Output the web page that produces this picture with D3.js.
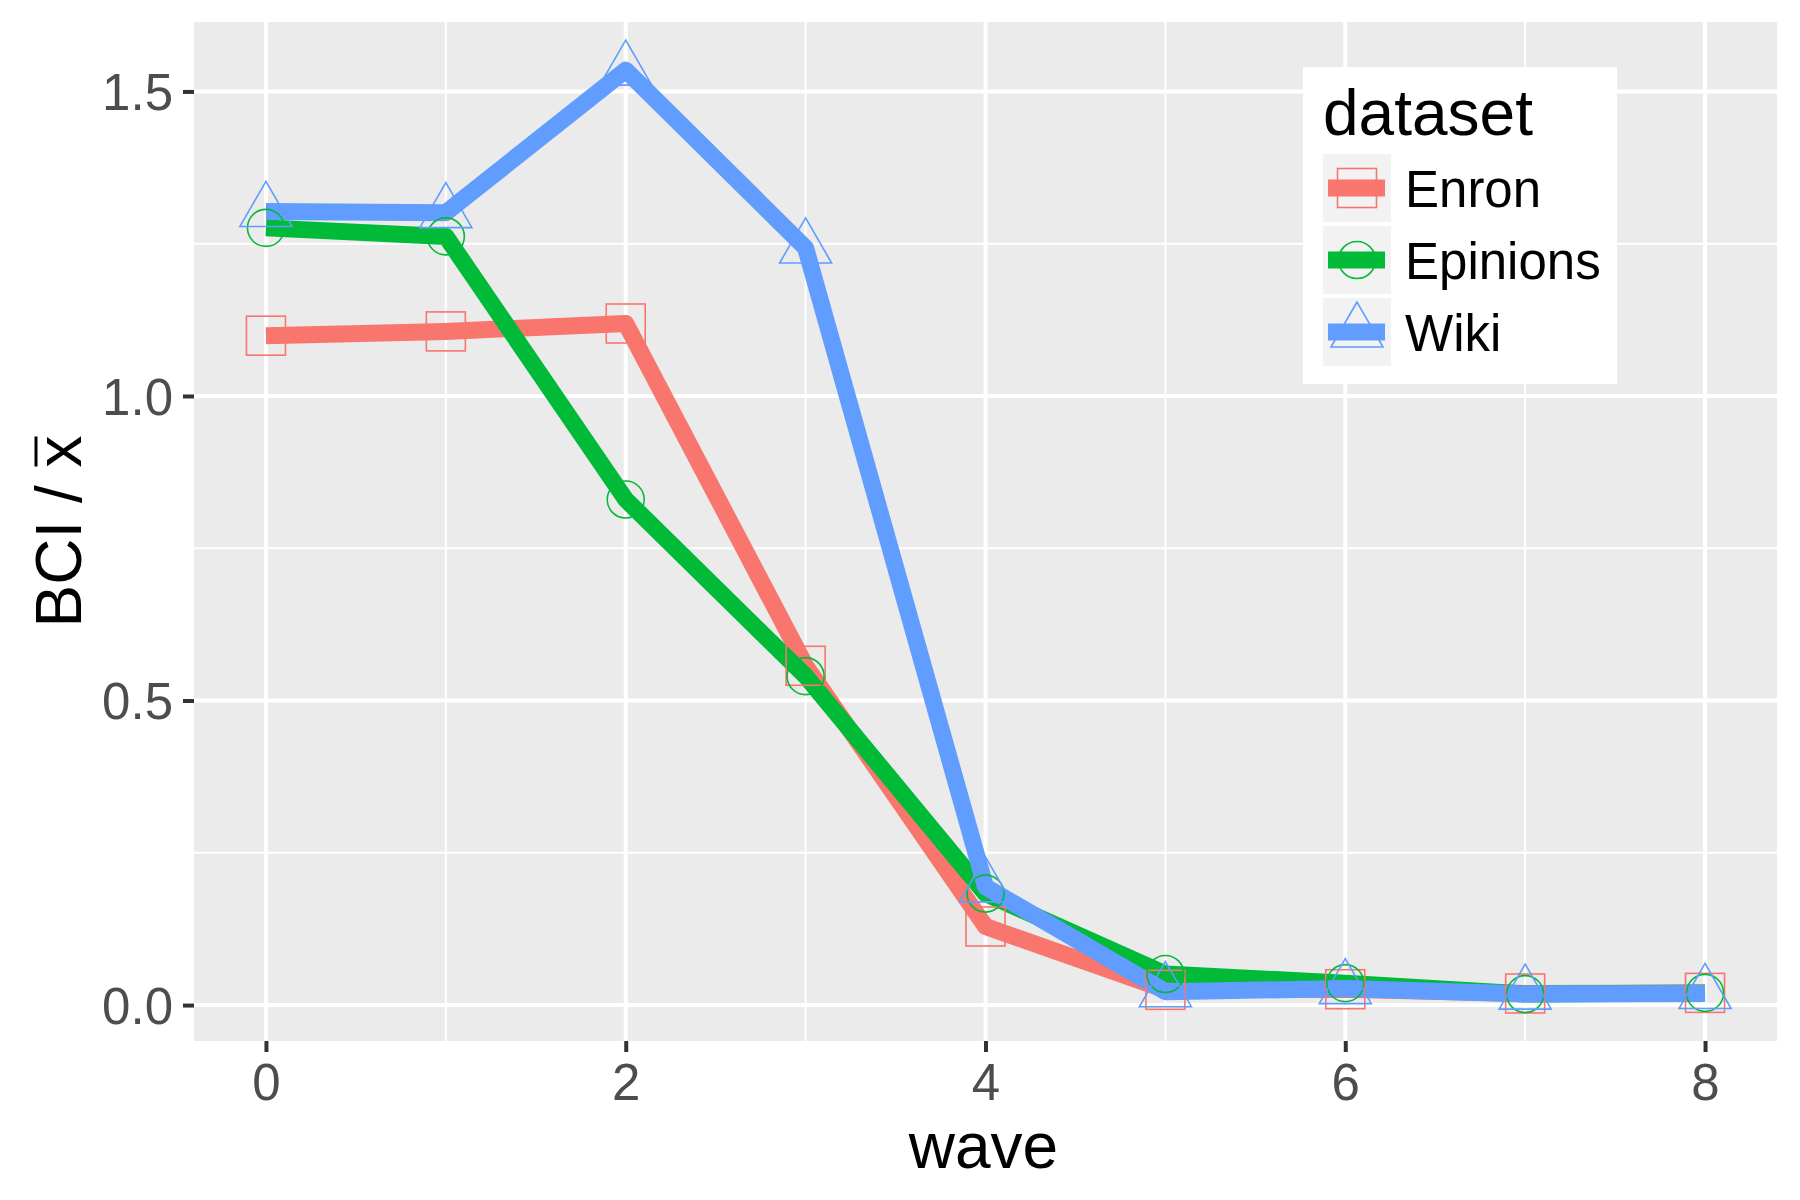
<!DOCTYPE html>
<html>
<head>
<meta charset="utf-8">
<script src="https://cdn.jsdelivr.net/npm/d3@7/dist/d3.min.js"></script>
<style>
  html, body { margin: 0; padding: 0; background: #fff; }
  svg { display: block; font-family: "Liberation Sans", Arial, sans-serif; }
</style>
</head>
<body>
<svg id="chart" width="1800" height="1200"></svg>
<script>
// ---- data ----
const waves = [0, 1, 2, 3, 4, 5, 6, 7, 8];
const datasets = ["Enron", "Epinions", "Wiki"];
const enron    = [1.099, 1.106, 1.119, 0.557, 0.129, 0.025, 0.026, 0.019, 0.020];
const epinions = [1.276, 1.262, 0.830, 0.540, 0.183, 0.051, 0.036, 0.018, 0.020];
const wiki     = [1.303, 1.301, 1.535, 1.243, 0.194, 0.022, 0.027, 0.018, 0.019];
const xTicks = [0, 2, 4, 6, 8];
const xMinor = [1, 3, 5, 7];
const yTicks = [0.0, 0.5, 1.0, 1.5];
const yMinor = [0.25, 0.75, 1.25];
const colors = ["#F8766D", "#00BA38", "#619CFF"];
const shapes = ["square", "circle", "triangle"];

const seriesValues = [enron, epinions, wiki];
const series = datasets.map((name, i) => ({
  name, color: colors[i], shape: shapes[i],
  points: waves.map((w, j) => ({ x: w, y: seriesValues[i][j] }))
}));

// ---- layout ----
const svg = d3.select("#chart");
const panel = { left: 194, right: 1777, top: 22, bottom: 1041 };

const x = d3.scaleLinear().domain([-0.4, 8.4]).range([panel.left, panel.right]);
const y = d3.scaleLinear().domain([-0.059, 1.614]).range([panel.bottom, panel.top]);

// panel background
svg.append("rect")
  .attr("x", panel.left).attr("y", panel.top)
  .attr("width", panel.right - panel.left).attr("height", panel.bottom - panel.top)
  .attr("fill", "#EBEBEB");

const grid = svg.append("g");
// minor grid
grid.selectAll(".ymin").data(yMinor).enter().append("line")
  .attr("x1", panel.left).attr("x2", panel.right)
  .attr("y1", d => y(d)).attr("y2", d => y(d))
  .attr("stroke", "#fff").attr("stroke-width", 2);
grid.selectAll(".xmin").data(xMinor).enter().append("line")
  .attr("y1", panel.top).attr("y2", panel.bottom)
  .attr("x1", d => x(d)).attr("x2", d => x(d))
  .attr("stroke", "#fff").attr("stroke-width", 2);
// major grid
grid.selectAll(".ymaj").data(yTicks).enter().append("line")
  .attr("x1", panel.left).attr("x2", panel.right)
  .attr("y1", d => y(d)).attr("y2", d => y(d))
  .attr("stroke", "#fff").attr("stroke-width", 4);
grid.selectAll(".xmaj").data(xTicks).enter().append("line")
  .attr("y1", panel.top).attr("y2", panel.bottom)
  .attr("x1", d => x(d)).attr("x2", d => x(d))
  .attr("stroke", "#fff").attr("stroke-width", 4);

// axes
const yAxis = d3.axisLeft(y).tickValues(yTicks).tickFormat(d3.format(".1f")).tickSize(11).tickPadding(10);
const gy = svg.append("g").attr("transform", `translate(${panel.left},0)`).call(yAxis);
gy.select(".domain").remove();
gy.selectAll(".tick line").attr("stroke", "#333333").attr("stroke-width", 4);
gy.selectAll(".tick text").attr("fill", "#4D4D4D").style("font-size", "51px")
  .style("font-family", "'Liberation Sans', Arial, sans-serif").attr("dy", "0.36em");

const xAxis = d3.axisBottom(x).tickValues(xTicks).tickFormat(d3.format("d")).tickSize(11).tickPadding(11);
const gx = svg.append("g").attr("transform", `translate(0,${panel.bottom})`).call(xAxis);
gx.select(".domain").remove();
gx.selectAll(".tick line").attr("stroke", "#333333").attr("stroke-width", 4);
gx.selectAll(".tick text").attr("fill", "#4D4D4D").style("font-size", "51px")
  .style("font-family", "'Liberation Sans', Arial, sans-serif").attr("dy", "0.72em");

// lines
const line = d3.line().x(d => x(d.x)).y(d => y(d.y));
const clip = svg.append("clipPath").attr("id", "clip").append("rect")
  .attr("x", panel.left).attr("y", panel.top)
  .attr("width", panel.right - panel.left).attr("height", panel.bottom - panel.top);
const plot = svg.append("g").attr("clip-path", "url(#clip)");
plot.selectAll(".series").data(series).enter().append("path")
  .attr("d", d => line(d.points))
  .attr("fill", "none").attr("stroke", d => d.color)
  .attr("stroke-width", 17).attr("stroke-linejoin", "round").attr("stroke-linecap", "butt");

// markers
function drawMarker(g, shape, color, cx, cy) {
  if (shape === "square") {
    const s = 39;
    g.append("rect").attr("x", cx - s / 2).attr("y", cy - s / 2).attr("width", s).attr("height", s)
      .attr("fill", "none").attr("stroke", color).attr("stroke-width", 1.6);
  } else if (shape === "circle") {
    g.append("circle").attr("cx", cx).attr("cy", cy).attr("r", 18.5)
      .attr("fill", "none").attr("stroke", color).attr("stroke-width", 1.6);
  } else {
    const side = 52, h = side * Math.sqrt(3) / 2;
    const pts = [[cx, cy - 2 * h / 3], [cx - side / 2, cy + h / 3], [cx + side / 2, cy + h / 3]];
    g.append("polygon").attr("points", pts.map(p => p.join(",")).join(" "))
      .attr("fill", "none").attr("stroke", color).attr("stroke-width", 1.6);
  }
}
const marks = svg.append("g");
series.forEach(s => {
  s.points.forEach(p => drawMarker(marks, s.shape, s.color, x(p.x), y(p.y)));
});

// axis titles
svg.append("text").attr("x", (panel.left + panel.right) / 2 - 2).attr("y", 1168)
  .attr("text-anchor", "middle").style("font-size", "64px").attr("fill", "#000").text("wave");

const yt = svg.append("g").attr("transform", `translate(81,${(panel.top + panel.bottom) / 2}) rotate(-90)`);
const ytText = yt.append("text").attr("text-anchor", "middle").style("font-size", "64px").attr("fill", "#000");
ytText.append("tspan").text("BCI / ");
ytText.append("tspan").text("x");
{
  const node = ytText.node();
  const total = node.getComputedTextLength();
  const pre = node.getSubStringLength(0, 6);
  const xw = node.getSubStringLength(6, 1);
  const start = -total / 2 + pre;
  yt.append("line").attr("x1", start + 1).attr("x2", start + xw - 1)
    .attr("y1", -45).attr("y2", -45).attr("stroke", "#000").attr("stroke-width", 3);
}

// legend
const lg = svg.append("g");
lg.append("rect").attr("x", 1303).attr("y", 67).attr("width", 314).attr("height", 317).attr("fill", "#fff");
lg.append("text").attr("x", 1323).attr("y", 135).style("font-size", "64px").attr("fill", "#000").text("dataset");
series.forEach((s, i) => {
  const top = 154 + i * 72;
  const cy = top + 34;
  lg.append("rect").attr("x", 1323).attr("y", top).attr("width", 68).attr("height", 68).attr("fill", "#F2F2F2");
  lg.append("line").attr("x1", 1328).attr("x2", 1385).attr("y1", cy).attr("y2", cy)
    .attr("stroke", s.color).attr("stroke-width", 17);
  drawMarker(lg, s.shape, s.color, 1357, cy);
  lg.append("text").attr("x", 1405).attr("y", cy + 19).style("font-size", "51px").attr("fill", "#000").text(s.name);
});
</script>
</body>
</html>
